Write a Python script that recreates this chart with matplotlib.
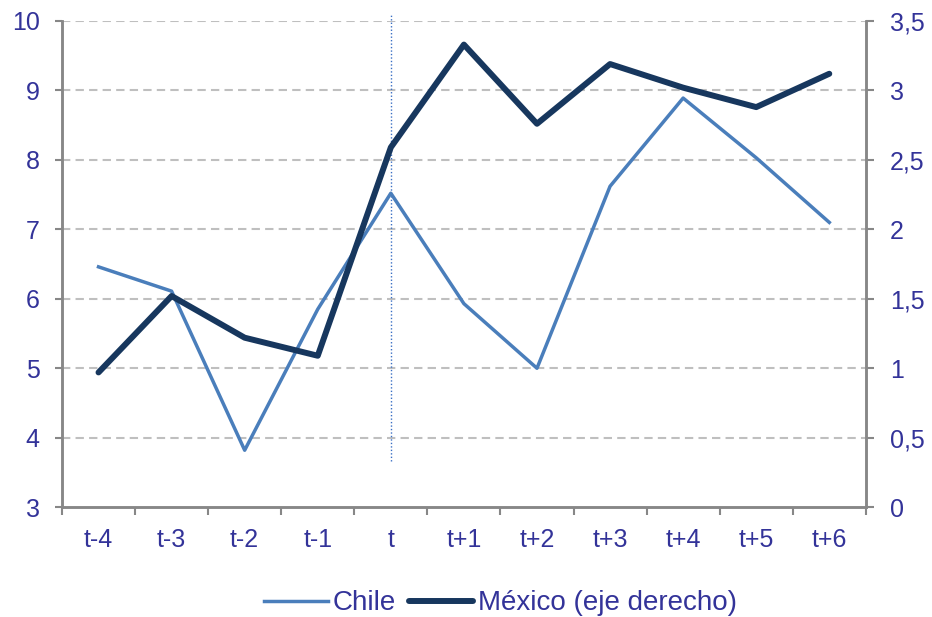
import matplotlib.pyplot as plt
import numpy as np

# data
periods = ["t-4", "t-3", "t-2", "t-1", "t", "t+1", "t+2", "t+3", "t+4", "t+5", "t+6"]
chile = [6.46, 6.11, 3.82, 5.85, 7.52, 5.93, 5.0, 7.62, 8.89, 8.03, 7.1]
mexico = [0.97, 1.52, 1.22, 1.09, 2.59, 3.33, 2.76, 3.19, 3.02, 2.88, 3.12]

event_period = "t"
event_span = (3.67, 10.1)

left_ticks = [3, 4, 5, 6, 7, 8, 9, 10]
right_ticks = [0, 0.5, 1, 1.5, 2, 2.5, 3, 3.5]

CHILE_COLOR = "#4A7EBB"
MEXICO_COLOR = "#17375E"
TEXT_COLOR = "#333399"
AXIS_COLOR = "#878787"
GRID_COLOR = "#BFBFBF"

plt.rcParams["font.family"] = ["Liberation Sans", "DejaVu Sans"]

fig = plt.figure(figsize=(9.32, 6.17), dpi=100)
ax = fig.add_axes([0.0665, 0.178, 0.8625, 0.788])
ax2 = ax.twinx()

x = np.arange(len(periods))

# grid first so lines sit on top
for v in left_ticks[1:]:
    ax.axhline(v, color=GRID_COLOR, lw=1.5, ls=(0, (4, 2.5)), zorder=0)

l1, = ax.plot(x, chile, color=CHILE_COLOR, lw=2.5, label="Chile", zorder=3)
l2, = ax2.plot(x, mexico, color=MEXICO_COLOR, lw=4.3, label="México (eje derecho)",
               solid_capstyle="round", zorder=4)

ex = periods.index(event_period)
ax.plot([ex, ex], list(event_span), color="#3A6FC4", lw=1.0, ls=(0, (1, 1.5)),
        clip_on=False, zorder=2)

ax.set_xlim(-0.5, len(periods) - 0.5)
ax.set_ylim(3, 10)
ax2.set_ylim(0, 3.5)

ax.set_xticks(x)
ax.set_xticklabels(periods)
ax.set_xticks(np.arange(-0.5, len(periods), 1), minor=True)
ax.tick_params(axis="x", which="major", length=0, pad=15, labelsize=18, labelcolor=TEXT_COLOR)
ax.tick_params(axis="x", which="minor", length=6, width=1.5, color=AXIS_COLOR)

ax.set_yticks(left_ticks)
ax.tick_params(axis="y", length=5, width=1.5, color=AXIS_COLOR, labelsize=18,
               labelcolor=TEXT_COLOR, pad=11)

ax2.set_yticks(right_ticks)
ax2.set_yticklabels([("%g" % v).replace(".", ",") for v in right_ticks])
ax2.tick_params(axis="y", length=5.5, width=1.5, color=AXIS_COLOR, labelsize=18,
                labelcolor=TEXT_COLOR, pad=12)

for a in (ax, ax2):
    a.spines["top"].set_visible(False)
    for s in ("left", "right", "bottom"):
        a.spines[s].set_color(AXIS_COLOR)
        a.spines[s].set_linewidth(1.8)

fig.legend([l1, l2], ["Chile", "México (eje derecho)"], loc="center",
           bbox_to_anchor=(0.537, 0.022), ncol=2, frameon=False, fontsize=20,
           labelcolor=TEXT_COLOR, handlelength=2.3, handletextpad=0.2, columnspacing=0.45)

fig.savefig("out.png", dpi=100)
